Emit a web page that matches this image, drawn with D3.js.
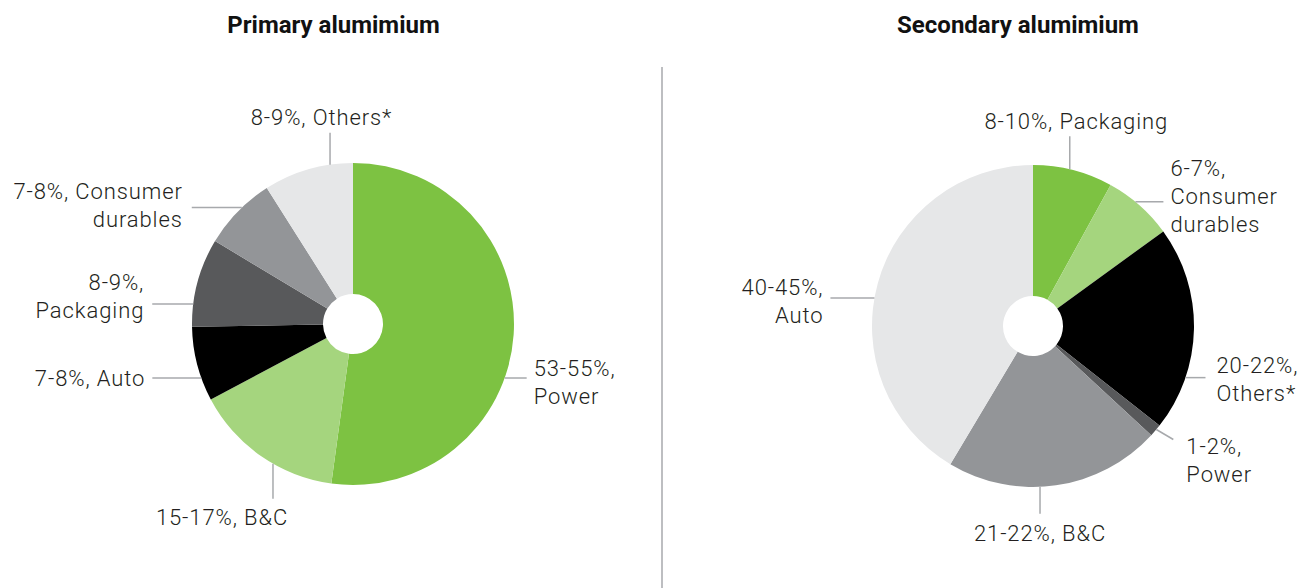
<!DOCTYPE html>
<meta charset="UTF-8">
<style>
body { margin: 0; background: #fff; }
.title { font: 700 24px Roboto, sans-serif; fill: #111; }
.label { font: 300 22px Roboto, sans-serif; letter-spacing: 0.9px; fill: #231f20; }
.leader { stroke: #a7a9ac; stroke-width: 1.5px; fill: none; }
</style>
<body>
<script src="https://cdnjs.cloudflare.com/ajax/libs/d3/7.8.5/d3.min.js"></script>
<script>

// ---- data ----
var primaryCategories = ["Power", "B&C", "Auto", "Packaging", "Consumer durables", "Others*"];
var primaryValues = [52.2, 15.1, 7.5, 8.9, 7.4, 9.0];
var primaryLabels = [["53-55%,", "Power"], ["15-17%, B&C"], ["7-8%, Auto"],
                     ["8-9%,", "Packaging"], ["7-8%, Consumer", "durables"], ["8-9%, Others*"]];

var secondaryCategories = ["Packaging", "Consumer durables", "Others*", "Power", "B&C", "Auto"];
var secondaryValues = [8.0, 7.0, 20.6, 1.25, 21.7, 41.4];
var secondaryLabels = [["8-10%, Packaging"], ["6-7%,", "Consumer", "durables"], ["20-22%,", "Others*"],
                       ["1-2%,", "Power"], ["21-22%, B&C"], ["40-45%,", "Auto"]];

// slice colours by position, same palette on both pies
var palette = ["#7dc242", "#a5d57e", "#000000", "#58595b", "#939598", "#e6e7e8"];

// leader layout: attach angle (deg, clockwise from top), leader vector, text offset from leader end
var primaryLayout = [
  {angle: 109.6, lx: 22, ly: 0, tx: 7, ty: -2, anchor: "start"},
  {angle: 209.8, lx: 0, ly: 35, tx: -51, ty: 26, anchor: "middle"},
  {angle: 250.4, lx: -49, ly: 0, tx: -7, ty: 8, anchor: "end"},
  {angle: 277.1, lx: -41, ly: 0, tx: -8, ty: -14, anchor: "end"},
  {angle: 316.3, lx: -50, ly: 0, tx: -9, ty: -9, anchor: "end"},
  {angle: 351.8, lx: 0, ly: -32, tx: -8.5, ty: -8, anchor: "middle"}
];
var secondaryLayout = [
  {angle: 13.2, lx: 0, ly: -33, tx: 6.5, ty: -7, anchor: "middle"},
  {angle: 39.5, lx: 28, ly: 0, tx: 7, ty: -26, anchor: "start"},
  {angle: 108.7, lx: 20, ly: 0, tx: 11, ty: -5, anchor: "start"},
  {angle: 130, lx: 17, ly: 10, tx: 13, ty: 15, anchor: "start"},
  {angle: 177.5, lx: 0, ly: 27, tx: 0, ty: 27, anchor: "middle"},
  {angle: 280, lx: -44, ly: 0, tx: -7, ty: -3, anchor: "end"}
];

var width = 1312, height = 588,
    outerR = 161, innerR = 30, lineH = 28;

var svg = d3.select("body").append("svg")
    .attr("width", width)
    .attr("height", height);

// divider between the two charts
svg.append("line")
    .attr("class", "leader")
    .attr("x1", 662).attr("x2", 662)
    .attr("y1", 67).attr("y2", height);

var pie = d3.pie().sort(null).value(function(d) { return d; });
var arc = d3.arc().innerRadius(innerR).outerRadius(outerR);

function drawPie(title, titleX, cx, cy, values, labels, layout) {

  svg.append("text")
      .attr("class", "title")
      .attr("x", titleX).attr("y", 33)
      .attr("text-anchor", "middle")
      .text(title);

  var g = svg.append("g")
      .attr("transform", "translate(" + cx + "," + cy + ")");

  g.selectAll("path.slice")
      .data(pie(values))
      .enter().append("path")
      .attr("class", "slice")
      .attr("d", arc)
      .attr("fill", function(d, i) { return palette[i]; });

  // leaders + labels
  layout.forEach(function(s, i) {
    var a = s.angle * Math.PI / 180,
        x0 = outerR * Math.sin(a),
        y0 = -outerR * Math.cos(a),
        x1 = x0 + s.lx,
        y1 = y0 + s.ly;

    g.append("line")
        .attr("class", "leader")
        .attr("x1", x0).attr("y1", y0)
        .attr("x2", x1).attr("y2", y1);

    var t = g.append("text")
        .attr("class", "label")
        .attr("text-anchor", s.anchor);

    labels[i].forEach(function(line, j) {
      t.append("tspan")
          .attr("x", x1 + s.tx)
          .attr("y", y1 + s.ty + j * lineH)
          .text(line);
    });
  });
}

drawPie("Primary alumimium", 333.5, 353, 324, primaryValues, primaryLabels, primaryLayout);
drawPie("Secondary alumimium", 1018, 1033, 326, secondaryValues, secondaryLabels, secondaryLayout);

</script>
</body>
